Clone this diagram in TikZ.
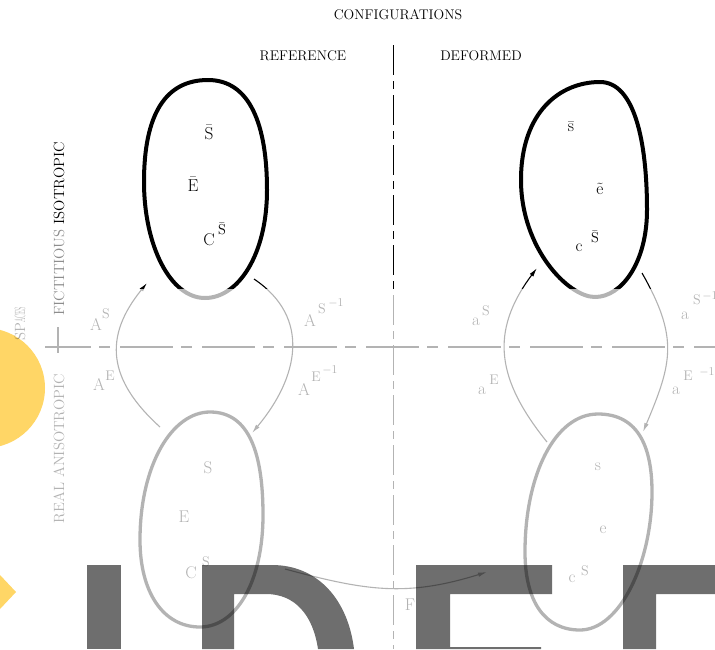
\documentclass[tikz,border=0pt]{standalone}
\usetikzlibrary{arrows.meta}
\definecolor{orng}{RGB}{255,214,102}
\tikzset{
  heading/.style={font=\fontsize{14}{16}\selectfont, inner sep=0pt},
  lett/.style={font=\fontsize{17}{19}\selectfont, inner sep=0pt},
  suplett/.style={font=\fontsize{14}{16}\selectfont, inner sep=0pt},
  lab/.style={font=\fontsize{17}{19}\selectfont, inner sep=0pt},
  suplab/.style={font=\fontsize{14}{16}\selectfont, inner sep=0pt},
  supmin/.style={font=\fontsize{12}{14}\selectfont, inner sep=0pt},
  side/.style={font=\fontsize{14.8}{17}\selectfont, inner sep=0pt, rotate=90},
  eggline/.style={line width=4pt, line join=round},
  egglow/.style={line width=3.3pt, line join=round},
  arcline/.style={line width=1.1pt, -{Latex[length=9pt,width=4.5pt]}},
  sepline/.style={line width=1.4pt, dash pattern=on 53pt off 8pt on 11pt off 10pt, dash phase=7pt},
  vsepline/.style={line width=1.2pt, dash pattern=on 30pt off 6pt on 8pt off 6pt},
  bigletter/.style={fill=black, fill opacity=0.57},
}
\begin{document}
\begin{tikzpicture}[x=1pt,y=-1pt]
\useasboundingbox (0,0) rectangle (715,649);
\clip (0,0) rectangle (715,649);

% headings
\node[heading] (conf) at (398,15) {CONFIGURATIONS};
\node[heading] (ref) at (303,56) {REFERENCE};
\node[heading] (def) at (481,56) {DEFORMED};

% separators
\draw[vsepline] (393.5,45) coordinate (vtop) -- (393.5,649) coordinate (vbot);
\draw[sepline] (45,347) coordinate (hl) -- (715,347) coordinate (hr);
\draw[line width=1.2pt] (58,327) coordinate (tk1) -- (58,353) coordinate (tk2);

% eggs
\draw[eggline] (208,80) .. controls (250,80) and (267,125) .. (267,190)
  .. controls (267,255) and (238,298) .. (205,298)
  .. controls (170,298) and (144,245) .. (144,182)
  .. controls (144,115) and (165,80) .. cycle;
\draw[eggline] (600,82) .. controls (634,82) and (647,140) .. (647,210)
  .. controls (647,262) and (622,297) .. (595,297)
  .. controls (568,297) and (521,248) .. (521,180)
  .. controls (521,112) and (560,82) .. cycle;
\draw[egglow] (210,412) .. controls (250,412) and (263,455) .. (263,515)
  .. controls (263,582) and (236,627) .. (200,627)
  .. controls (163,627) and (140,592) .. (140,540)
  .. controls (140,465) and (172,412) .. cycle;
\draw[egglow] (598,414) .. controls (640,414) and (652,450) .. (652,492)
  .. controls (652,562) and (620,630) .. (580,630)
  .. controls (545,630) and (525,602) .. (525,552)
  .. controls (525,475) and (555,414) .. cycle;

% connector end points
\coordinate (Lb) at (160,427);
\coordinate (Lt) at (147,283);
\coordinate (Rt) at (254,279);
\coordinate (Rb) at (252,433);
\coordinate (lb) at (547,442);
\coordinate (lt) at (537,268);
\coordinate (rt) at (642,273);
\coordinate (rb) at (643,432);
\coordinate (Fs) at (285,569);
\coordinate (Fe) at (487,572);

\draw[arcline] (Lb) .. controls (108,380) and (103,337) .. (Lt);
\draw[arcline] (Rt) .. controls (312,318) and (298,378) .. (Rb);
\draw[arcline] (lb) .. controls (497,380) and (489,332) .. (lt);
\draw[arcline] (rt) .. controls (679,338) and (672,363) .. (rb);
\draw[arcline] (Fs) .. controls (367,591) and (406,597) .. (Fe);

% letters in eggs
\node[lett] (S1) at (209,132) {$\bar{\mathrm{S}}$};
\node[lett] (E1) at (193,184) {$\bar{\mathrm{E}}$};
\node[lett] (C1) at (209,240) {C};
\node[suplett] (C1s) at (222,229) {$\bar{\mathrm{S}}$};
\node[lett] (s2) at (571,127) {$\bar{\mathrm{s}}$};
\node[lett] (e2) at (600,189) {$\tilde{\mathrm{e}}$};
\node[lett] (c2) at (579,248) {c};
\node[suplett] (c2s) at (595,237) {$\bar{\mathrm{S}}$};
\node[lett] (S3) at (208,468) {S};
\node[lett] (E3) at (184,517) {E};
\node[lett] (C3) at (191,573) {C};
\node[suplett] (C3s) at (206,562) {S};
\node[lett] (s4) at (598,467) {s};
\node[lett] (e4) at (603,530) {e};
\node[lett] (c4) at (572,579) {c};
\node[suplett] (c4s) at (585,571) {S};

% arc labels
\node[lab] (AS) at (96,324) {A};
\node[suplab] (ASs) at (106,314) {S};
\node[lab] (AE) at (99,384) {A};
\node[suplab] (AEs) at (110,376) {E};
\node[lab] (ASi) at (310,320) {A};
\node[suplab] (ASis) at (322,309) {S};
\node[supmin] (ASim) at (336,303) {$-$1};
\node[lab] (AEi) at (304,389) {A};
\node[suplab] (AEis) at (316,377) {E};
\node[supmin] (AEim) at (330,370) {$-$1};
\node[lab] (aS) at (476,322) {a};
\node[suplab] (aSs) at (486,311) {S};
\node[lab] (aE) at (482,391) {a};
\node[suplab] (aEs) at (494,380) {E};
\node[lab] (aSi) at (685,316) {a};
\node[suplab] (aSis) at (697,300) {S};
\node[supmin] (aSim) at (710,296) {$-$1};
\node[lab] (aEi) at (676,391) {a};
\node[suplab] (aEis) at (688,376) {E};
\node[supmin] (aEim) at (707,372) {$-$1};
\node[lab] (F) at (410,605) {F};

% side labels (lower ones)
\node[side] (real) at (59,448.5) {REAL ANISOTROPIC};
\node[side] (spaces) at (20,324) {SP\scalebox{0.4}[1]{ACES}};

% lightening of the lower part
\fill[white, fill opacity=0.7] (0,289) rectangle (715,649);

\node[side] (fict) at (59,229) {{\color{black!45}FICTITIOUS} ISOTROPIC};

% orange shapes
\begin{scope}[blend mode=multiply]
\fill[orng] (-15,388) circle[radius=60];
\fill[orng] (0,575) -- (16,592) -- (0,609) -- cycle;
\end{scope}

% big letters
\fill[bigletter] (87,565) rectangle (121,649);
\fill[bigletter] (202,565) -- (272,565) .. controls (318,565) and (348,600) .. (354,649) -- (318,649) .. controls (313,615) and (295,594) .. (266,594) -- (234,594) -- (234,649) -- (202,649) -- cycle;
\fill[bigletter] (416,565) -- (552,565) -- (552,594) -- (450,594) -- (450,647) -- (541,647) -- (541,649) -- (416,649) -- cycle;
\fill[bigletter] (623,565) -- (715,565) -- (715,594) -- (656,594) -- (656,649) -- (623,649) -- cycle;
\end{tikzpicture}
\end{document}
